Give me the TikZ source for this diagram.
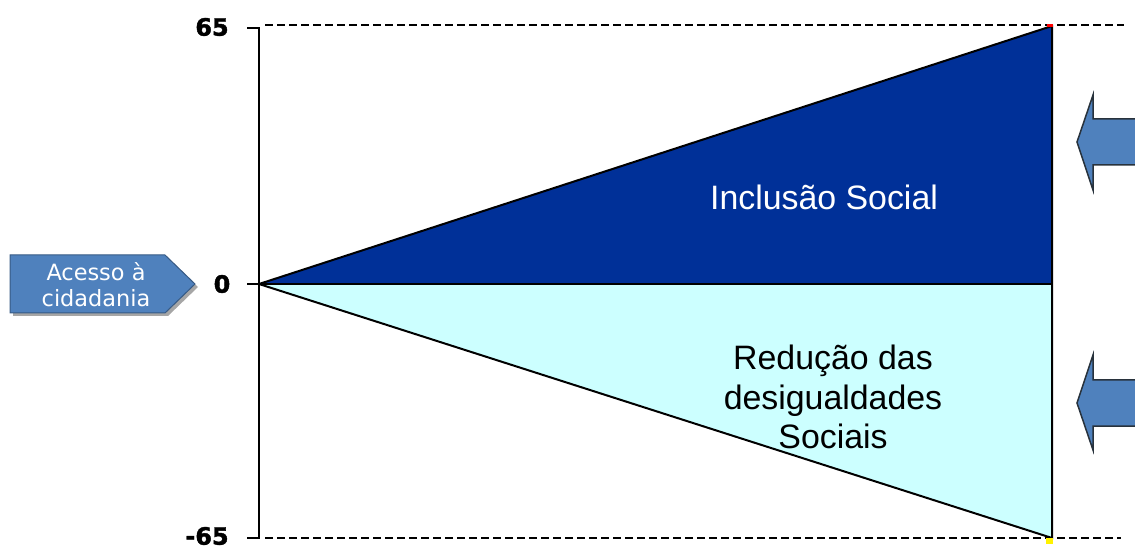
\documentclass[tikz,border=0pt]{standalone}
\usepackage{fontspec}
\setmainfont{Liberation Sans}
\newfontfamily\verd{DejaVu Sans}
\newfontfamily\heavy[FakeBold=1.6]{DejaVu Sans}
\definecolor{dkblue}{RGB}{0,48,152}
\definecolor{ltcyan}{RGB}{204,255,255}
\definecolor{arrblue}{RGB}{79,129,189}
\definecolor{arredge}{RGB}{40,50,60}
\tikzset{
  edge/.style={draw=black, line width=2bp, line join=miter},
  axisline/.style={draw=black, line width=2bp},
  guide/.style={draw=black, line width=1.8bp, dash pattern=on 8bp off 4bp},
  bigarrow/.style={fill=arrblue, draw=arredge, line width=1.5bp},
  boxshape/.style={fill=arrblue, draw=arrblue!70!black, line width=1bp},
  lab/.style={font=\heavy\bfseries\fontsize{24}{24}\selectfont, text=black, inner sep=0pt},
  bigtext/.style={font=\fontsize{34}{40}\selectfont, align=center, inner sep=0pt},
}
\begin{document}
\begin{tikzpicture}[x=1bp,y=-1bp]
\useasboundingbox (0,0) rectangle (1135,549);
% key points
\coordinate (O) at (259,284);
\coordinate (T) at (1052,26);
\coordinate (M) at (1052,284);
\coordinate (B) at (1052,538);
\coordinate (AT) at (259,28);
\coordinate (AB) at (259,538);
\coordinate (TT) at (247,28);
\coordinate (TB) at (247,538);
\coordinate (TZ) at (247,284);
\coordinate (GT0) at (265,25);
\coordinate (GT1) at (1124,25);
\coordinate (GB0) at (265,538);
\coordinate (GB1) at (1121,538);
% triangles
\fill[dkblue] (O) -- (T) -- (M) -- cycle;
\fill[ltcyan] (O) -- (M) -- (B) -- cycle;
\draw[edge] (O) -- (T) -- (B) -- cycle;
\draw[edge] (O) -- (M);
% axis
\draw[axisline] (TT) -- (AT) -- (AB) -- (TB);
\draw[axisline] (TZ) -- (O);
% guides
\draw[guide] (GT0) -- (GT1);
\draw[guide] (GB0) -- (GB1);
% markers at vertices
\fill[red] (1047,24) rectangle (1053,27);
\fill[yellow] (1046,538) rectangle (1053,544);
% axis labels
\node[lab] (l65) at (212,27) {65};
\node[lab] (l0) at (222,284) {0};
\node[lab] (lm65) at (207,536) {-65};
% region texts
\node[bigtext, text=white] (inc) at (824,197) {Inclusão Social};
\node[bigtext, text=black] (red) at (833,397) {Redução das\\desigualdades\\Sociais};
% right arrows
\draw[bigarrow] (1077,142) -- (1093,95) -- (1093,119) -- (1140,119) -- (1140,165) -- (1093,165) -- (1093,190) -- cycle;
\draw[bigarrow] (1077,403) -- (1093,355) -- (1093,380) -- (1140,380) -- (1140,426) -- (1093,426) -- (1093,450) -- cycle;
% left box
\fill[black!35] (13,258) -- (168,258) -- (198,287) -- (168,316) -- (13,316) -- cycle;
\draw[boxshape] (10,255) -- (165,255) -- (195,284) -- (165,313) -- (10,313) -- cycle;
\node[font=\verd\fontsize{22.5}{26}\selectfont, text=white, align=center, inner sep=0pt] (acc) at (96,285) {Acesso à\\cidadania};
\end{tikzpicture}
\end{document}
